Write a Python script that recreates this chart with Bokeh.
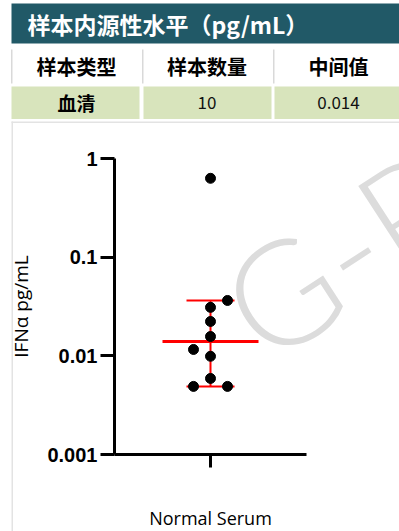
from bokeh.plotting import figure
from bokeh.models import (Range1d, FixedTicker, LogAxis, LinearAxis, LogScale,
                          ColumnDataSource)
from bokeh.core.properties import value
from bokeh.embed import file_html
from bokeh.resources import INLINE

# ---------------- data ----------------
title_text = "样本内源性水平（pg/mL）"
table_header = ["样本类型", "样本数量", "中间值"]
table_row = ["血清", "10", "0.014"]

category = "Normal Serum"
ifn_values = [0.63, 0.0364, 0.031, 0.0223, 0.0157, 0.0116, 0.0099, 0.0059, 0.0049, 0.0049]
swarm_slot = [0, 1, 0, 0, 0, -1, 0, 0, -1, 1]
median_value = 0.014
bar_low = 0.0049
bar_high = 0.0364

y_ticks = [0.001, 0.01, 0.1, 1]
y_tick_labels = ["0.001", "0.01", "0.1", "1"]
y_label = "IFNα pg/mL"
watermark = "G-R"

# ---------------- styles / layout ----------------
TEAL = "#215967"
GREEN = "#D8E4BC"
SEP = "#d9d9d9"
BORDER = "#e3e3e3"
RED = "#ff0000"
CJK = value("Noto Sans CJK SC")

W, H = 399, 531
FL, FR, FT, FB = 114, 306, 158, 454     # chart area edges in canvas px
PX_PER_X = (FR - FL) / 2                 # chart x range is -1..1
DEC = 3                                  # decades 0.001..1
PX_PER_DEC = (FB - FT) / DEC

# one figure whose frame is the whole canvas; the page decorations use pixel coordinates,
# the chart uses its own x range and a log y range mapped onto the chart area.
p = figure(width=W, height=H, x_range=Range1d(0, W), y_range=Range1d(H, 0),
           output_backend="svg", toolbar_location=None, min_border=0,
           x_axis_location=None, y_axis_location=None)
p.xgrid.visible = False
p.ygrid.visible = False
p.outline_line_color = None
p.background_fill_color = "white"
p.border_fill_color = "white"

p.extra_x_ranges = {"cx": Range1d(-1 - FL / PX_PER_X, 1 + (W - FR) / PX_PER_X)}
p.extra_y_ranges = {"log": Range1d(10 ** (-DEC - (H - FB) / PX_PER_DEC), 10 ** (FT / PX_PER_DEC))}
p.extra_y_scales = {"log": LogScale()}

# ---------- table header block ----------
p.quad(left=[11], right=[W], top=[3], bottom=[43], fill_color=TEAL, line_color=None)
p.text(x=[27], y=[23], text=[title_text], text_font=CJK, text_font_style="bold",
       text_font_size="23px", text_color="white", text_align="left", text_baseline="middle")

p.quad(left=[10.5, 141.5, 272.5], right=[12, 143, 274], top=[49] * 3, bottom=[83] * 3,
       fill_color=SEP, line_color=None)
col_cx = [76, 206.5, 338]
p.text(x=col_cx, y=[66] * 3, text=table_header, text_font=CJK, text_font_style="bold",
       text_font_size="20px", text_color="black", text_align="center", text_baseline="middle")

p.quad(left=[11, 143, 274], right=[139, 271, W], top=[86] * 3, bottom=[118.5] * 3,
       fill_color=GREEN, line_color=None)
p.text(x=[col_cx[0]], y=[102], text=[table_row[0]], text_font=CJK, text_font_style="bold",
       text_font_size="19px", text_color="black", text_align="center", text_baseline="middle")
p.text(x=col_cx[1:], y=[102, 102], text=table_row[1:], text_font=CJK,
       text_font_size="17px", text_color="#111111", text_align="center", text_baseline="middle")

# panel border (top + left)
p.quad(left=[11, 11], right=[W, 12.5], top=[121, 121], bottom=[122.5, H],
       fill_color=BORDER, line_color=None)

# watermark (under the data)
p.text(x=[236], y=[320], text=[watermark], angle=33, angle_units="deg",
       text_font=value("Lato Light, Lato"), text_font_size="145px", text_color="#dcdcdc",
       text_align="left", text_baseline="alphabetic")

# ---------- chart ----------
ya = LogAxis(fixed_location=FL, y_range_name="log", bounds=(y_ticks[0], y_ticks[-1]))
ya.ticker = FixedTicker(ticks=y_ticks, minor_ticks=[])
ya.major_label_overrides = {v: s for v, s in zip(y_ticks, y_tick_labels)}
ya.axis_line_width = 3
ya.major_tick_line_width = 3
ya.major_tick_out = 14
ya.major_tick_in = 0
ya.minor_tick_out = 0
ya.minor_tick_in = 0
ya.major_label_standoff = 3
ya.major_label_text_font = "Liberation Sans"
ya.major_label_text_font_style = "bold"
ya.major_label_text_font_size = "20px"
ya.major_label_text_color = "black"
ya.axis_label = y_label
ya.axis_label_text_font = "Open Sans"
ya.axis_label_text_font_style = "normal"
ya.axis_label_text_font_size = "19px"
ya.axis_label_text_color = "black"
ya.axis_label_standoff = 10
p.add_layout(ya, "left")

xa = LinearAxis(fixed_location=FB, x_range_name="cx", bounds=(-1, 1))
xa.ticker = FixedTicker(ticks=[0], minor_ticks=[])
xa.major_label_overrides = {0: category}
xa.axis_line_width = 3
xa.major_tick_line_width = 3
xa.major_tick_out = 13
xa.major_tick_in = 0
xa.minor_tick_out = 0
xa.minor_tick_in = 0
xa.major_label_standoff = 38
xa.major_label_text_font = "Open Sans"
xa.major_label_text_font_size = "18px"
xa.major_label_text_color = "black"
p.add_layout(xa, "below")

rn = dict(x_range_name="cx", y_range_name="log")
# median & error bar
p.segment(x0=[-0.5], x1=[0.5], y0=[median_value], y1=[median_value],
          line_color=RED, line_width=3, **rn)
p.segment(x0=[0], x1=[0], y0=[bar_low], y1=[bar_high], line_color=RED, line_width=2, **rn)
p.segment(x0=[-0.25, -0.25], x1=[0.25, 0.25], y0=[bar_low, bar_high], y1=[bar_low, bar_high],
          line_color=RED, line_width=2, **rn)

# points
slot_w = 0.177
src = ColumnDataSource(dict(x=[s * slot_w for s in swarm_slot], y=ifn_values))
p.scatter("x", "y", source=src, size=10, fill_color="black", line_color="black", **rn)

open("out.html", "w").write(file_html(p, INLINE))
